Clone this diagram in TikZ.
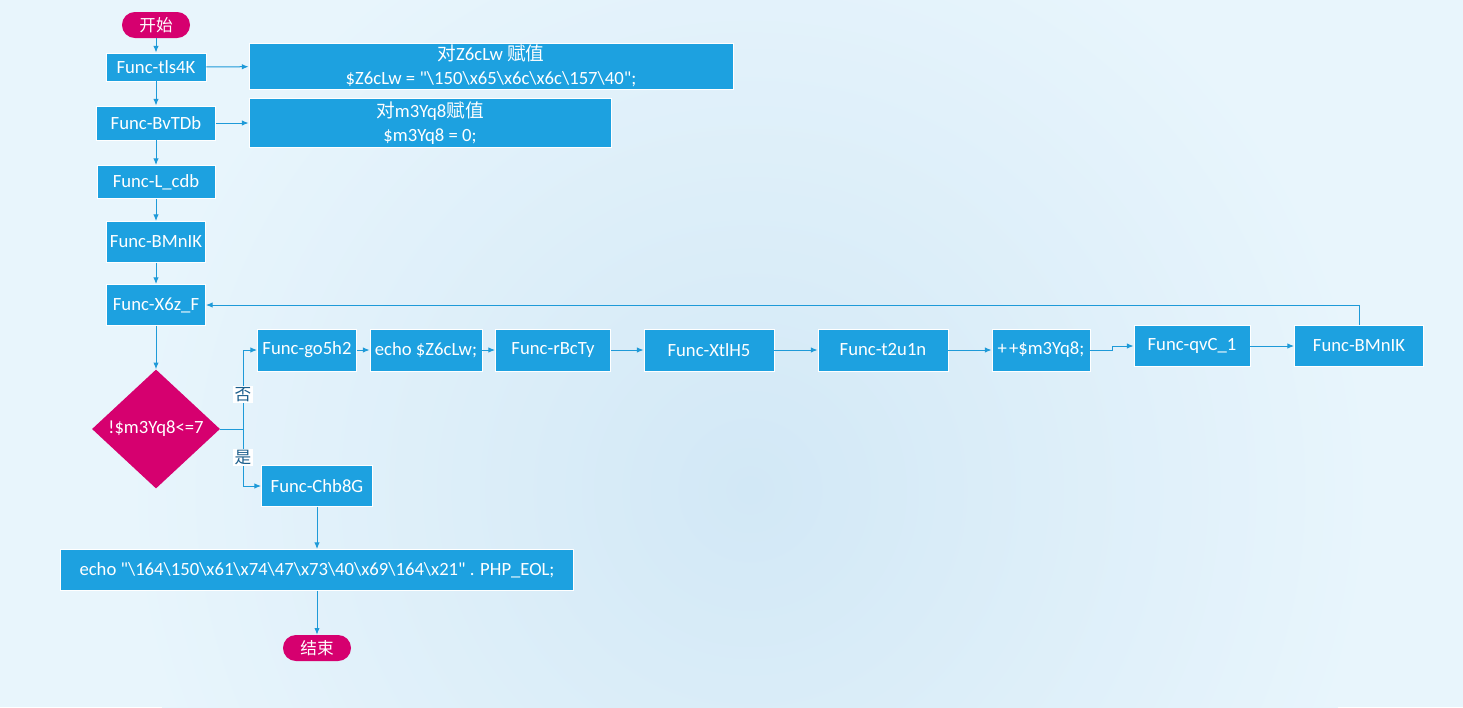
\documentclass[tikz,border=0pt]{standalone}
\usepackage{fontspec}
\newfontfamily\lat{Carlito}
\newfontfamily\cjk{Noto Sans CJK SC}
\usetikzlibrary{shapes.geometric,arrows.meta}
\definecolor{bgout}{HTML}{E8F5FC}
\definecolor{bgin}{HTML}{D2E8F6}
\definecolor{boxblue}{HTML}{1DA1E0}
\definecolor{linkblue}{HTML}{1E9AD8}
\definecolor{termred}{HTML}{D6006F}
\definecolor{lbltxt}{HTML}{1B5E8C}
\newcommand{\bsl}{\textbackslash}

\begin{document}
\begin{tikzpicture}[x=0.75pt,y=-0.75pt,
  sz/.style 2 args={minimum width=#1*0.75pt,minimum height=#2*0.75pt},
  proc/.style={rectangle,fill=boxblue,draw=white,line width=0.6pt,text=white,inner sep=0pt,align=center,font=\fontsize{14}{18}\selectfont\lat},
  term/.style={rectangle,rounded corners=9.7pt,fill=termred,text=white,inner sep=0pt,font=\fontsize{12.5}{16}\selectfont\cjk},
  cond/.style={diamond,fill=termred,text=white,inner sep=0pt,font=\fontsize{14}{16}\selectfont\lat},
  link/.style={draw=linkblue,line width=0.75pt,-{Latex[length=5pt,width=4pt]}},
  lbl/.style={fill=white,text=lbltxt,inner sep=1pt,font=\fontsize{12.5}{16}\selectfont\cjk}]
	% background
	\begin{scope}
		\clip (0,0) rectangle (1463,707);
		\fill[bgout] (0,0) rectangle (1463,707);
		\shade[inner color=bgin,outer color=bgout] (750,490) circle[radius=470pt];
	\end{scope}
	\useasboundingbox (0,0) rectangle (1463,707);
	% main column
	\node[term,sz={68}{26}] (start) at (156,25) {开始};
	\node[proc,sz={100}{28}] (tls) at (156,67) {Func-tls4K};
	\node[proc,sz={484}{46}] (setz) at (491,66) {{\cjk 对}Z6cLw {\cjk 赋值}\\\$Z6cLw = "\bsl150\bsl x65\bsl x6c\bsl x6c\bsl 157\bsl 40";};
	\node[proc,sz={119}{34}] (bvt) at (156,123) {Func-BvTDb};
	\node[proc,sz={362}{49}] (setm) at (430,123) {{\cjk 对}m3Yq8{\cjk 赋值}\\\$m3Yq8 = 0;};
	\node[proc,sz={118}{33}] (lcd) at (156,182) {Func-L\_cdb};
	\node[proc,sz={99}{41}] (bmna) at (156,242) {Func-BMnIK};
	\node[proc,sz={99}{41}] (x6z) at (156,305) {Func-X6z\_F};
	\node[cond,sz={128}{119}] (test) at (156,429) {!\$m3Yq8<=7};
	\coordinate (fork) at (243,429);
	% loop body
	\node[proc,sz={99}{42}] (go5) at (307,350) {Func-go5h2};
	\node[proc,sz={112}{42}] (echoz) at (426,350) {echo \$Z6cLw;};
	\node[proc,sz={115}{42}] (rbc) at (553,350) {Func-rBcTy};
	\node[proc,sz={130}{42}] (xtl) at (709,350) {Func-XtlH5};
	\node[proc,sz={130}{42}] (t2u) at (883,350) {Func-t2u1n};
	\node[proc,sz={98}{42}] (inc) at (1041,350) {+\kern1.5pt+\$m3Yq8;};
	\node[proc,sz={116}{41}] (qvc) at (1192,346) {Func-qvC\_1};
	\node[proc,sz={129}{41}] (bmnb) at (1359,346) {Func-BMnIK};
	% exit
	\node[proc,sz={111}{41}] (chb) at (317,486) {Func-Chb8G};
	\node[proc,sz={513}{41}] (echo) at (317,570) {echo "\bsl164\bsl150\bsl x61\bsl x74\bsl 47\bsl x73\bsl 40\bsl x69\bsl 164\bsl x21" . PHP\_EOL;};
	\node[term,sz={68}{26}] (stop) at (317,648) {结束};
	% connectors
	\draw[link] (start) -- (tls);
	\draw[link] (tls) -- (setz);
	\draw[link] (tls) -- (bvt);
	\draw[link] (bvt) -- (setm);
	\draw[link] (bvt) -- (lcd);
	\draw[link] (lcd) -- (bmna);
	\draw[link] (bmna) -- (x6z);
	\draw[link] (x6z) -- (test);
	\draw[draw=linkblue,line width=0.75pt] (test.east) -- (fork);
	\draw[link] (fork) |- node[pos=0.22,lbl] {否} (go5);
	\draw[link] (fork) |- node[pos=0.25,lbl] {是} (chb);
	\draw[link] (go5) -- (echoz);
	\draw[link] (echoz) -- (rbc);
	\draw[link] (rbc) -- (xtl);
	\draw[link] (xtl) -- (t2u);
	\draw[link] (t2u) -- (inc);
	\draw[link] (inc.east) -- ++(22,0) |- (qvc.west);
	\draw[link] (qvc) -- (bmnb);
	\draw[link] (bmnb.north) |- (x6z.east);
	\draw[link] (chb) -- (echo);
	\draw[link] (echo) -- (stop);
\end{tikzpicture}
\end{document}
